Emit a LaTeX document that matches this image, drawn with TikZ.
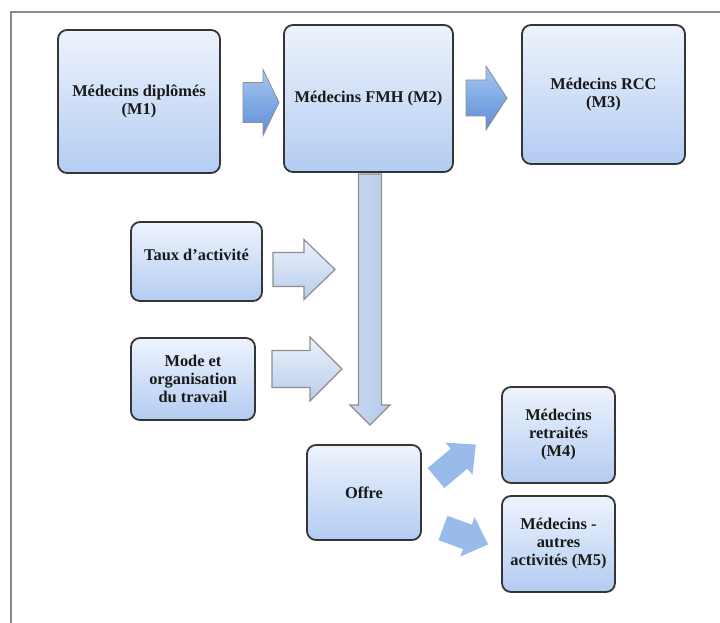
\documentclass[tikz,border=0pt]{standalone}
\usepackage{fontspec}
\setmainfont{Liberation Serif}
\usepackage{tikz}
\definecolor{BoxTop}{HTML}{EEF3FD}
\definecolor{BoxBot}{HTML}{B3CCF2}
\definecolor{BoxLine}{HTML}{353535}
\definecolor{DarkArrTop}{HTML}{A6C7F2}
\definecolor{DarkArrBot}{HTML}{5C8DD6}
\definecolor{LightArrTop}{HTML}{EDF2FB}
\definecolor{LightArrBot}{HTML}{B7CCEC}
\definecolor{ArrLine}{HTML}{8E8E8E}
\definecolor{SoftArr}{HTML}{8DB4EA}
\definecolor{FrameGray}{HTML}{8A8A8A}

% block arrow: style, tail x, tail y, angle, length, shaft half, head half, head length
\newcommand{\blockarr}[8]{\path[#1,shift={(#2,#3)},rotate=#4] (0,-#6) -- (#5-#8,-#6) -- (#5-#8,-#7)
 -- (#5,0) -- (#5-#8,#7) -- (#5-#8,#6) -- (0,#6) -- cycle;}

\begin{document}
\begin{tikzpicture}[x=1pt,y=-1pt,
 box/.style={draw=BoxLine,line width=1.8pt,rounded corners=9pt,top color=BoxTop,bottom color=BoxBot,
  align=center,font=\fontsize{16.4}{18}\selectfont\bfseries,text=black!90,inner sep=2pt},
 darkarr/.style={draw=ArrLine,line width=0.8pt,top color=DarkArrTop,bottom color=DarkArrBot},
 lightarr/.style={draw=ArrLine,line width=1.2pt,top color=LightArrTop,bottom color=LightArrBot},
 downarr/.style={draw=ArrLine,line width=1.2pt,left color=LightArrBot!80!white,right color=LightArrBot},
 softarr/.style={fill=SoftArr,fill opacity=0.9}]
\useasboundingbox (0,0) rectangle (720,623);
\draw[FrameGray,line width=1.5pt] (11,623) -- (11,12) -- (720,12);

\node[box,minimum width=162,minimum height=143] (m1) at (139,101.5) {Médecins diplômés\\(M1)};
\node[box,minimum width=169,minimum height=147] (m2) at (368.5,98.5) {Médecins FMH (M2)};
\node[box,minimum width=163,minimum height=139] (m3) at (603.5,94.5) {Médecins RCC\\(M3)};
\node[box,minimum width=131,minimum height=79] (taux) at (196.5,261.5) {Taux d'activité\\[-4pt]\mbox{}};
\node[box,minimum width=124,minimum height=82] (mode) at (193,379) {Mode et\\organisation\\du travail};
\node[box,minimum width=114,minimum height=95] (offre) at (364,492.5) {Offre};
\node[box,minimum width=113,minimum height=96] (m4) at (558.5,435) {Médecins\\retraités\\(M4)};
\node[box,minimum width=113,minimum height=96] (m5) at (558.5,544) {Médecins -\\autres\\activités (M5)};

\blockarr{darkarr}{243}{102.5}{0}{36}{20}{33}{16}
\blockarr{darkarr}{466}{98}{0}{41}{18}{32}{21}
\blockarr{downarr}{370}{174}{-90}{251}{11.5}{20}{20}
\blockarr{lightarr}{273}{269.5}{0}{62}{17}{30}{31}
\blockarr{lightarr}{272}{369}{0}{70}{18.5}{32}{32}
\blockarr{softarr}{436}{478}{40}{52}{13}{21}{22}
\blockarr{softarr}{443}{528}{-20}{48}{13}{21}{22}
\end{tikzpicture}
\end{document}
